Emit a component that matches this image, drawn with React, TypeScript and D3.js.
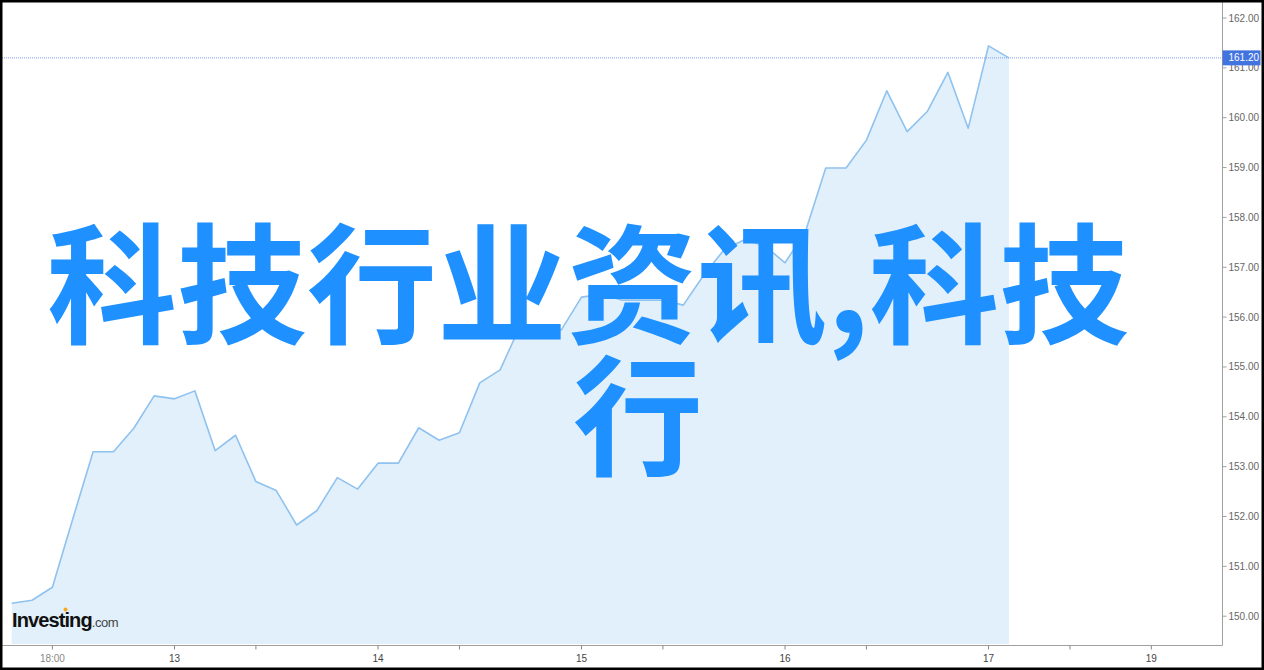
import * as d3 from 'd3';

const W = 1264;
const H = 670;

// hourly closes
const prices = [
  150.26, 150.32, 150.58, 151.95, 153.3, 153.3, 153.77, 154.42, 154.36, 154.52,
  153.32, 153.63, 152.7, 152.52, 151.83, 152.12, 152.78, 152.55, 153.07, 153.07,
  153.78, 153.53, 153.68, 154.68, 154.94, 155.84, 155.84, 155.74, 156.4, 156.46,
  156.34, 156.34, 156.34, 156.24, 156.84, 157.35, 157.55, 157.43, 157.09, 157.71,
  158.99, 158.99, 159.55, 160.54, 159.72, 160.13, 160.91, 159.79, 161.44, 161.2,
];
const lastPrice = 161.2;

const yTicks = [150, 151, 152, 153, 154, 155, 156, 157, 158, 159, 160, 161, 162];
const xLabels = [
  { i: 2, label: '18:00', time: true },
  { i: 8, label: '13' },
  { i: 18, label: '14' },
  { i: 28, label: '15' },
  { i: 38, label: '16' },
  { i: 48, label: '17' },
  { i: 56, label: '19' },
];
const xMinor = [12, 22, 32, 42, 52];

const titleLine1 = '科技行业资讯,科技';
const titleLine2 = '行';

const plotRight = 1222.5;
const plotBottom = 645.5;

export default function App() {
  const x = d3.scaleLinear().domain([0, 49]).range([11.7, 1008.9]);
  const y = d3.scaleLinear().domain([150, 162]).range([616.2, 18]);

  const line = d3
    .line<number>()
    .x((_, i) => x(i))
    .y((d) => y(d));
  const area = d3
    .area<number>()
    .x((_, i) => x(i))
    .y0(plotBottom - 1.5)
    .y1((d) => y(d));

  const axisFont = 'Arial, "Liberation Sans", sans-serif';
  const titleFont = '"Noto Sans CJK SC", sans-serif';

  return (
    <svg
      width={W}
      height={H}
      style={{ position: 'absolute', left: 0, top: 0, background: '#fff' }}
    >
      <rect x={0} y={0} width={W} height={H} fill="#fff" />

      {/* area + line */}
      <path d={area(prices)} fill="#e1f0fa" />
      <path d={line(prices)} fill="none" stroke="#8fc2ee" strokeWidth={1.6} strokeLinejoin="round" />

      {/* last price guide */}
      <line
        x1={2}
        x2={plotRight}
        y1={y(lastPrice)}
        y2={y(lastPrice)}
        stroke="#7f9ef0"
        strokeWidth={1}
        strokeDasharray="1,1"
      />

      {/* axes */}
      <line x1={plotRight} x2={plotRight} y1={0} y2={plotBottom} stroke="#a0a0a0" strokeWidth={1} />
      <line x1={0} x2={plotRight} y1={plotBottom} y2={plotBottom} stroke="#a0a0a0" strokeWidth={1} />

      {yTicks.map((t) => (
        <g key={t} transform={`translate(${plotRight},${y(t)})`}>
          <line x1={0} x2={4} stroke="#a0a0a0" />
          <text x={6} dy="0.35em" fontSize={10} fontFamily={axisFont} fill="#666">
            {d3.format('.2f')(t)}
          </text>
        </g>
      ))}

      <g transform={`translate(${plotRight},${y(lastPrice)})`}>
        <rect x={0} y={-7.5} width={38} height={15} fill="#4274e0" />
        <text x={6} dy="0.35em" fontSize={10} fontFamily={axisFont} fill="#fff">
          {d3.format('.2f')(lastPrice)}
        </text>
      </g>

      {xMinor.map((i) => (
        <line key={i} x1={x(i)} x2={x(i)} y1={plotBottom} y2={plotBottom + 4} stroke="#888" />
      ))}
      {xLabels.map((d) => (
        <g key={d.label} transform={`translate(${x(d.i)},${plotBottom})`}>
          <line y1={0} y2={4} stroke="#888" />
          <text
            y={16}
            textAnchor="middle"
            fontSize={10}
            fontFamily={axisFont}
            fill={d.time ? '#888' : '#444'}
          >
            {d.label}
          </text>
        </g>
      ))}

      {/* logo */}
      <text x={12} y={627} fontFamily={axisFont} fill="#111">
        <tspan fontSize={20} fontWeight="bold" letterSpacing={-0.9}>Investing</tspan>
        <tspan fontSize={13} fill="#444" letterSpacing={-0.4}>.com</tspan>
      </text>
      <circle cx={65.5} cy={609.5} r={2} fill="#f5a623" />

      {/* overlay title */}
      <text x={47} y={333} fontSize={130} fontWeight="bold" fontFamily={titleFont} fill="#1e90ff">
        {titleLine1}
      </text>
      <text x={573} y={465} fontSize={130} fontWeight="bold" fontFamily={titleFont} fill="#1e90ff">
        {titleLine2}
      </text>

      {/* outer frame */}
      <rect x={1} y={1} width={W - 2} height={H - 2} fill="none" stroke="#000" strokeWidth={3} />
    </svg>
  );
}
